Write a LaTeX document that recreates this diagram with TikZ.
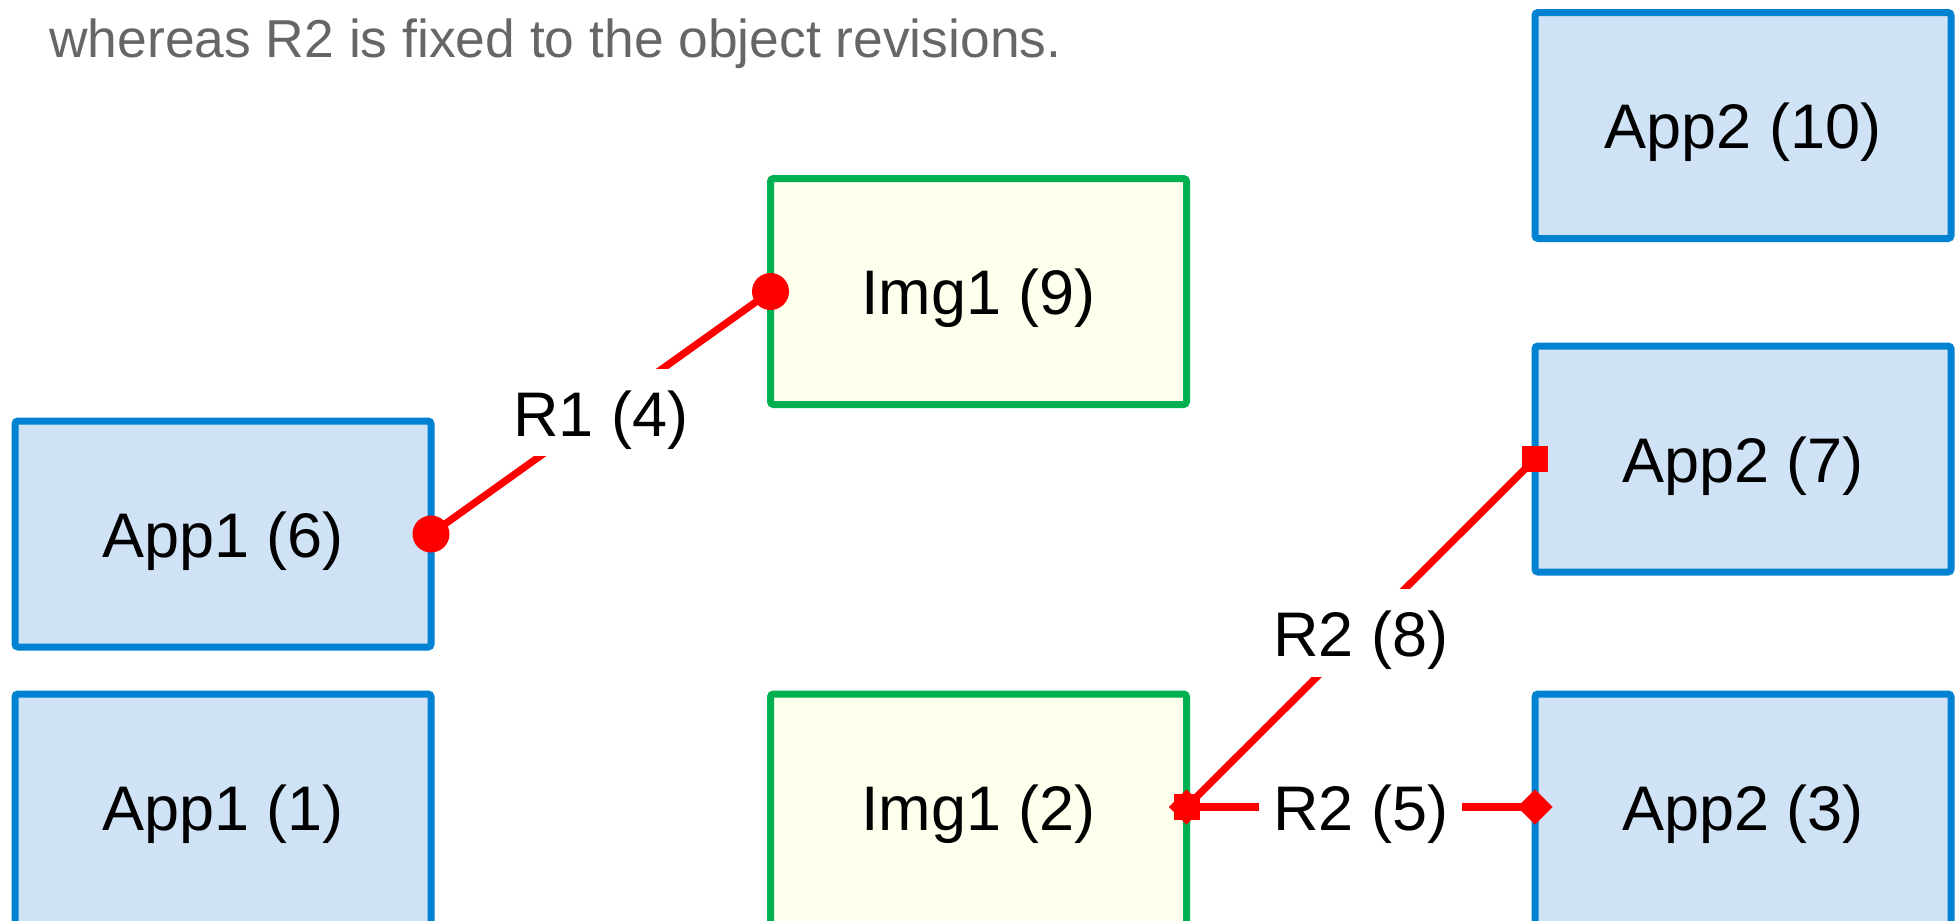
\documentclass[tikz,border=0pt]{standalone}
\usepackage{fontspec}
\setmainfont{Liberation Sans}
\usetikzlibrary{backgrounds}
\definecolor{appborder}{RGB}{0,130,210}
\definecolor{appfill}{RGB}{207,226,246}
\definecolor{imgborder}{RGB}{0,176,80}
\definecolor{imgfill}{RGB}{255,255,238}
\definecolor{relred}{RGB}{255,0,0}
\definecolor{notegray}{RGB}{102,102,102}
\begin{document}
\begin{tikzpicture}[x=0.5pt,y=-0.5pt,
  box/.style={rectangle, rounded corners=1.5pt, line width=3.5pt, minimum width=208pt, minimum height=113pt, inner sep=0pt, outer sep=0pt, font=\fontsize{31.5}{36}\selectfont, text height=26.5pt, text depth=3.2pt},
  appbox/.style={box, draw=appborder, fill=appfill},
  imgbox/.style={box, draw=imgborder, fill=imgfill},
  openbox/.style={box},
  appframe/.style={fill=appfill, draw=appborder, line width=3.5pt, rounded corners=1.5pt},
  imgframe/.style={fill=imgfill, draw=imgborder, line width=3.5pt, rounded corners=1.5pt},
  rel/.style={draw=relred, line width=3.6pt},
  rellabel/.style={fill=white, inner sep=7pt, font=\fontsize{31.5}{36}\selectfont, text=black, text height=26.5pt, text depth=3.2pt},
  enddot/.style={circle, fill=relred, minimum size=18.5pt, inner sep=0pt},
  endsq/.style={rectangle, fill=relred, minimum size=13pt, inner sep=0pt},
  enddia/.style={rectangle, fill=relred, minimum size=12.5pt, inner sep=0pt, rotate=45},
]
\useasboundingbox (0,0) rectangle (1956,921);
\clip (0,0) rectangle (1956,921);

\node[anchor=base west, text=notegray, font=\fontsize{26.7}{30}\selectfont, inner sep=0pt] (note) at (49,57) {whereas R2 is fixed to the object revisions.};

% boxes
\node[appbox] (app6) at (223,534) {App1 (6)};
\node[imgbox] (img9) at (978.5,291.5) {Img1 (9)};
\node[appbox] (app10) at (1743,125.5) {App2 (10)};
\node[appbox] (app7) at (1743,459) {App2 (7)};
\node[openbox] (app1) at (223,807) {App1 (1)};
\node[openbox] (img2) at (978.5,807) {Img1 (2)};
\node[openbox] (app3) at (1743,807) {App2 (3)};

\begin{scope}[on background layer]
  \path[appframe] ([yshift=-10pt]app1.south west) -- (app1.north west) -- (app1.north east) -- ([yshift=-10pt]app1.south east);
  \path[imgframe] ([yshift=-10pt]img2.south west) -- (img2.north west) -- (img2.north east) -- ([yshift=-10pt]img2.south east);
  \path[appframe] ([yshift=-10pt]app3.south west) -- (app3.north west) -- (app3.north east) -- ([yshift=-10pt]app3.south east);
\end{scope}

% relations
\draw[rel] (app6.east) -- node[rellabel] (r4) {R1 (4)} (img9.west);
\draw[rel] (img2.east) -- node[rellabel] (r8) {R2 (8)} (app7.west);
\draw[rel] (img2.east) -- node[rellabel] (r5) {R2 (5)} (app3.west);

% end markers
\node[enddot] (m1) at (app6.east) {};
\node[enddot] (m2) at (img9.west) {};
\node[endsq] (m3) at (img2.east) {};
\node[endsq] (m4) at (app7.west) {};
\node[enddia] (m5) at (img2.east) {};
\node[enddia] (m6) at (app3.west) {};
\end{tikzpicture}
\end{document}
